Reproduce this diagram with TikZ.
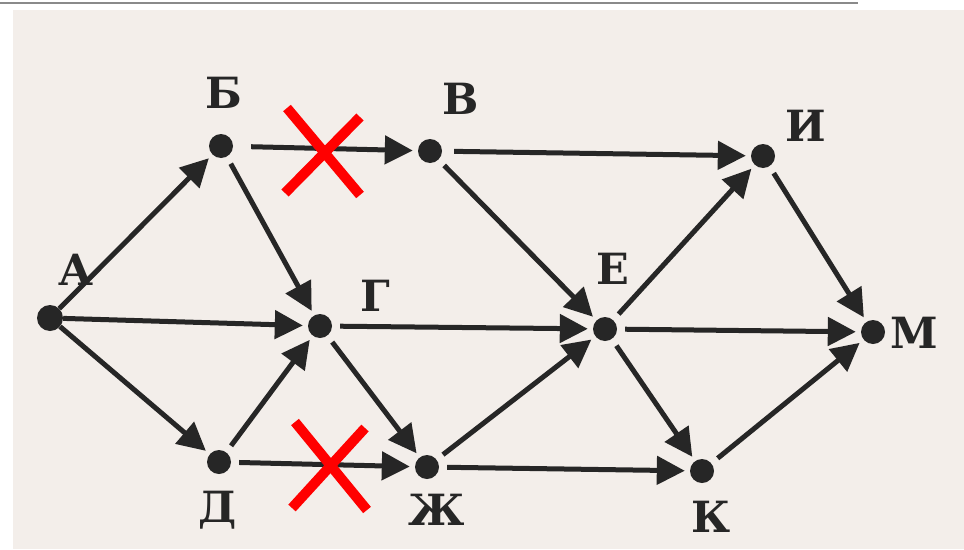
\documentclass[tikz,border=0pt]{standalone}
\usepackage{fontspec}
\setmainfont{DejaVu Serif}
\usetikzlibrary{arrows.meta}
\definecolor{paper}{HTML}{F3EEEA}
\definecolor{ink}{HTML}{262626}
\definecolor{rule}{HTML}{8A8A8A}
\begin{document}
\begin{tikzpicture}[x=1pt,y=-1pt,
  vertex/.style={circle,fill=ink,inner sep=0pt,minimum size=24pt},
  lbl/.style={anchor=base,inner sep=0pt,text=ink,font=\fontsize{43}{43}\selectfont\bfseries},
  arc/.style={draw=ink,line width=5pt,-{Triangle[length=28pt,width=28pt]},shorten >=5pt,shorten <=8pt},
  cross/.style={draw=red,line width=10pt}]
\useasboundingbox (0,0) rectangle (964,549);
\fill[white] (0,0) rectangle (964,549);
\fill[paper] (13,10) rectangle (964,549);
\draw[rule,line width=2pt] (0,3) -- (858,3);

% vertices
\node[vertex,minimum size=26pt] (A) at (50,318) {};
\node[vertex] (B) at (221,146) {};
\node[vertex] (V) at (430,151) {};
\node[vertex] (G) at (320,326) {};
\node[vertex] (D) at (219,462) {};
\node[vertex] (Zh) at (427,467) {};
\node[vertex] (E) at (605,329) {};
\node[vertex] (I) at (763,156) {};
\node[vertex] (K) at (702,471) {};
\node[vertex] (M) at (873,332) {};

% labels
\node[lbl] (lA) at (76,285) {А};
\node[lbl] (lB) at (224,108) {Б};
\node[lbl] (lV) at (461,114) {В};
\node[lbl] (lG) at (375,311) {Г};
\node[lbl] (lD) at (218,522) {Д};
\node[lbl] (lZh) at (437,525) {Ж};
\node[lbl] (lE) at (613,284) {Е};
\node[lbl] (lI) at (806,141) {И};
\node[lbl] (lK) at (711,532) {К};
\node[lbl] (lM) at (914,348) {М};

% arcs
\draw[arc,shorten <=0pt] (A) -- (B);
\draw[arc,shorten <=0pt] (A) -- (G);
\draw[arc,shorten <=0pt] (A) -- (D);
\draw[arc,shorten <=18pt] (B) -- (V);
\draw[arc] (B) -- (G);
\draw[arc,shorten <=12pt] (V) -- (I);
\draw[arc] (V) -- (E);
\draw[arc] (G) -- (E);
\draw[arc] (G) -- (Zh);
\draw[arc] (D) -- (G);
\draw[arc] (D) -- (Zh);
\draw[arc] (Zh) -- (E);
\draw[arc] (Zh) -- (K);
\draw[arc] (E) -- (I);
\draw[arc] (E) -- (M);
\draw[arc] (E) -- (K);
\draw[arc] (I) -- (M);
\draw[arc] (K) -- (M);

% struck-out arcs
\draw[cross] (287,108) -- (360,195);
\draw[cross] (360,117) -- (285,193);
\draw[cross] (295,422) -- (367,510);
\draw[cross] (365,428) -- (292,508);
\end{tikzpicture}
\end{document}
